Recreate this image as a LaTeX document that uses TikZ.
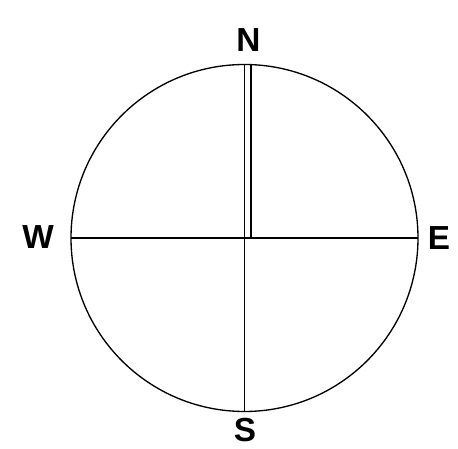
\documentclass[tikz,border=0pt]{standalone}
\usepackage{fontspec}
\setmainfont{Liberation Sans}
\tikzset{every picture/.style={line width=1pt}}
\tikzset{compass label/.style={font=\bfseries\fontsize{25}{25}\selectfont, inner sep=0pt}}

\begin{document}
\begin{tikzpicture}[x=0.75pt,y=0.75pt,yscale=-1,xscale=1]
%set diagram left start at 0, and has height of 449
\useasboundingbox (0,0) rectangle (458,449);

% Points
\coordinate (ctr) at (244.5,238);
\coordinate (nth) at (244.5,64.5);
\coordinate (sth) at (244.5,411.5);
\coordinate (wst) at (71,238);
\coordinate (est) at (418,238);
\coordinate (nth2) at (251,64.6);
\coordinate (ctr2) at (251,238);

%Shape: Circle [id:compass]
\draw   (ctr) circle [radius=173.5];
%Straight Lines [id:north-south]
\draw    (nth) -- (sth) ;
%Straight Lines [id:north-second]
\draw    (nth2) -- (ctr2) ;
%Straight Lines [id:west-east]
\draw    (wst) -- (est) ;

% Text Node
\draw (248.5,40) node [compass label] (lblN) {N};
% Text Node
\draw (38,237) node [compass label] (lblW) {W};
% Text Node
\draw (439,238) node [compass label] (lblE) {E};
% Text Node
\draw (245,430) node [compass label] (lblS) {S};

\end{tikzpicture}
\end{document}
